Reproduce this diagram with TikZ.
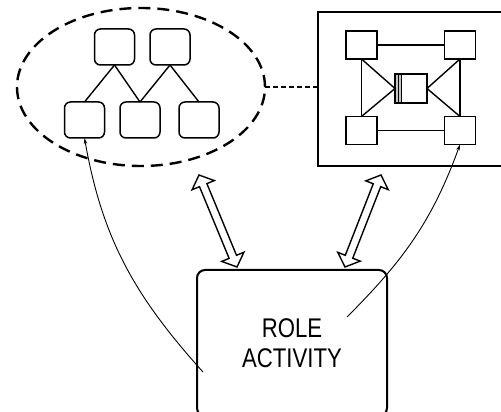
\documentclass[tikz,border=0pt]{standalone}
\usepackage{fontspec}
\newfontfamily\labelfont[FakeStretch=0.82]{Liberation Sans}
\usetikzlibrary{shapes.geometric,calc,arrows.meta}

\begin{document}
\begin{tikzpicture}[x=1pt, y=1pt]
	\tikzstyle{every node}=[inner sep=0pt, outer sep=0pt, align=center]
	\tikzstyle{unit}=[draw, line width=1.5pt, rounded corners=6pt, minimum width=40pt, minimum height=36pt]
	\tikzstyle{cell}=[draw, line width=1.5pt, minimum width=31pt, minimum height=28pt]
	\tikzstyle{link}=[line width=1.4pt]
	\tikzstyle{hollow}=[line width=1.4pt, line join=miter, fill=white]
	\tikzstyle{ref}=[line width=0.9pt, -{Stealth[length=6pt, width=3.5pt]}]
	\useasboundingbox (0,0) rectangle (501,412);

	% organisation chart in the dashed ellipse
	\node[draw, ellipse, line width=2.4pt, dash pattern=on 12pt off 7pt, minimum width=248pt, minimum height=158pt] (org) at (141,325) {};
	\node[unit] (t1) at (114.5,365) {};
	\node[unit] (t2) at (170,365) {};
	\node[unit] (b1) at (84.5,292) {};
	\node[unit] (b2) at (140,292) {};
	\node[unit] (b3) at (199,292) {};
	\draw[link] (t1.south) -- (b1.north);
	\draw[link] (t1.south) -- (b2.north);
	\draw[link] (t2.south) -- (b2.north);
	\draw[link] (t2.south) -- (b3.north);

	% system frame
	\node[draw, line width=2.4pt, minimum width=186pt, minimum height=154pt] (sys) at (411,323) {};
	\node[cell] (s1) at (361.5,367) {};
	\node[cell] (s2) at (460,367) {};
	\node[cell] (s3) at (361.5,281.5) {};
	\node[cell] (s4) at (460,281.5) {};
	\node[cell, minimum width=32pt, minimum height=29pt] (c) at (411,323.5) {};
	\fill[gray!45] ([shift={(0.7pt,-0.7pt)}]c.north west) rectangle ([shift={(6pt,0.7pt)}]c.south west);
	\draw[line width=0.9pt] ([xshift=3pt]c.north west) -- ([xshift=3pt]c.south west);
	\draw[line width=0.9pt] ([xshift=6pt]c.north west) -- ([xshift=6pt]c.south west);
	\draw[link] (s1.east) -- (s2.west);
	\draw[link] (s3.east) -- (s4.west);
	\draw[link] (s1.south) -- (s3.north);
	\draw[link] (s2.south) -- (s4.north);
	\draw[link] (s1.south) -- (c.west) -- (s3.north);
	\draw[link] (s2.south) -- (c.east) -- (s4.north);

	\draw[line width=2pt, dash pattern=on 5pt off 3pt] (org.east) -- (org.east -| sys.west);

	% role activity
	\node[draw, line width=2pt, rounded corners=8pt, minimum width=190pt, minimum height=146pt, font=\labelfont\fontsize{27}{30}\selectfont] (act) at (292,69) {ROLE\\ACTIVITY};

	% two-way block arrows
	\coordinate (la) at (199,237);
	\coordinate (lb) at (237,145);
	\coordinate (ra) at (381,237);
	\coordinate (rb) at (345,145);
	\foreach \a/\b in {la/lb, ra/rb} {
		\coordinate (ha) at ($(\a)!11pt!(\b)$);
		\coordinate (hb) at ($(\b)!11pt!(\a)$);
		\draw[hollow] (\a) -- ($(ha)!12pt!90:(\b)$) -- ($(ha)!4pt!90:(\b)$)
			-- ($(hb)!4pt!-90:(\a)$) -- ($(hb)!12pt!-90:(\a)$) -- (\b)
			-- ($(hb)!12pt!90:(\a)$) -- ($(hb)!4pt!90:(\a)$)
			-- ($(ha)!4pt!-90:(\b)$) -- ($(ha)!12pt!-90:(\b)$) -- cycle;
	}

	% references out of the activity
	\coordinate (lstart) at (203,40);
	\coordinate (rstart) at (347,95);
	\draw[ref] (lstart) to[out=132, in=-80] (b1.south);
	\draw[ref] (rstart) to[out=45, in=-110] (s4.south);
\end{tikzpicture}
\end{document}
